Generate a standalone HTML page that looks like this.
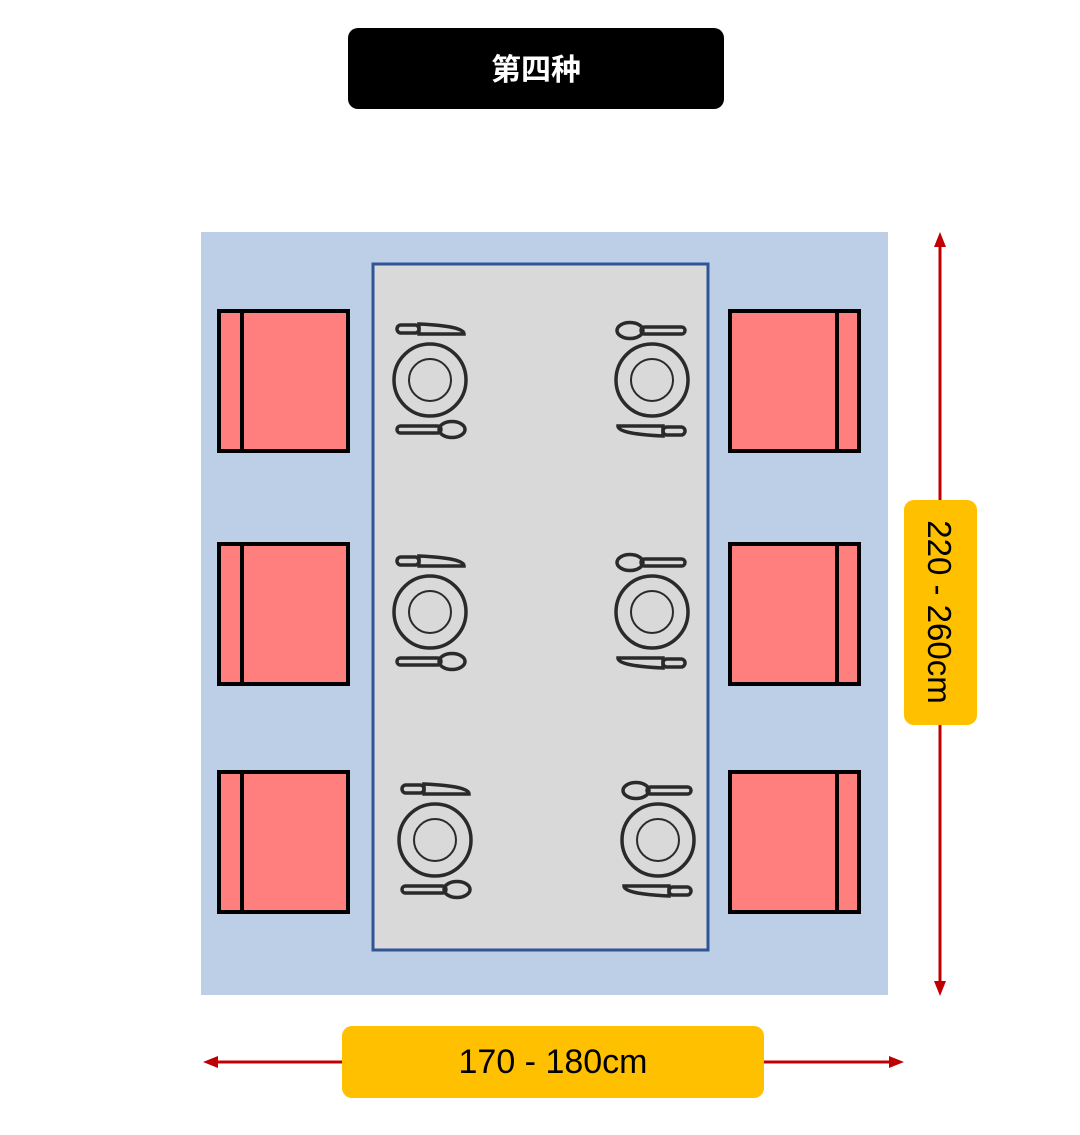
<!DOCTYPE html>
<html><head><meta charset="utf-8"><style>
body{margin:0;background:#fff;width:1080px;height:1135px;overflow:hidden}
svg{display:block}
</style></head><body>
<svg width="1080" height="1135" viewBox="0 0 1080 1135" xmlns="http://www.w3.org/2000/svg">
<defs>
<g id="ps" fill="none" stroke="#2a2a2a" stroke-width="3.5">
<circle cx="0" cy="0" r="36"/>
<circle cx="0" cy="0" r="21" stroke-width="2"/>
<rect x="-33" y="-55" width="22" height="8" rx="4"/>
<path d="M-11,-56 L-11,-46 L34,-46 Q34,-54 -11,-56 Z"/>
<rect x="-33" y="46" width="44" height="7" rx="3.5"/>
<ellipse cx="22" cy="49.5" rx="13" ry="8"/>
</g>
<g id="chL">
<rect x="219" y="0" width="129" height="140" fill="#ff7f7f" stroke="#000" stroke-width="4"/>
<line x1="242" y1="0" x2="242" y2="140" stroke="#000" stroke-width="4"/>
</g>
<g id="chR">
<rect x="730" y="0" width="129" height="140" fill="#ff7f7f" stroke="#000" stroke-width="4"/>
<line x1="837" y1="0" x2="837" y2="140" stroke="#000" stroke-width="4"/>
</g>
</defs>
<rect x="348" y="28" width="376" height="81" rx="10" fill="#000"/>
<text x="536" y="80" fill="#fff" font-size="30" font-weight="bold" text-anchor="middle" font-family="'Liberation Sans','Noto Sans CJK SC',sans-serif">第四种</text>
<rect x="201" y="232" width="687" height="763" fill="#bdcfe7"/>
<rect x="373" y="264" width="335" height="686" fill="#d9d9d9" stroke="#2f5597" stroke-width="3"/>
<use href="#chL" y="311"/><use href="#chL" y="544"/><use href="#chL" y="772"/>
<use href="#chR" y="311"/><use href="#chR" y="544"/><use href="#chR" y="772"/>
<use href="#ps" transform="translate(430,380)"/>
<use href="#ps" transform="translate(430,612)"/>
<use href="#ps" transform="translate(435,840)"/>
<use href="#ps" transform="translate(652,380) rotate(180)"/>
<use href="#ps" transform="translate(652,612) rotate(180)"/>
<use href="#ps" transform="translate(658,840) rotate(180)"/>
<line x1="940" y1="245" x2="940" y2="983" stroke="#c00000" stroke-width="3"/>
<path d="M940,232 L934,247 L946,247 Z M940,996 L934,981 L946,981 Z" fill="#c00000"/>
<rect x="904" y="500" width="73" height="225" rx="10" fill="#ffc000"/>
<text transform="translate(928,612) rotate(90)" font-size="33" text-anchor="middle" font-family="'Liberation Sans',sans-serif" fill="#000">220 - 260cm</text>
<line x1="215" y1="1062" x2="892" y2="1062" stroke="#c00000" stroke-width="3"/>
<path d="M203,1062 L218,1056 L218,1068 Z M904,1062 L889,1056 L889,1068 Z" fill="#c00000"/>
<rect x="342" y="1026" width="422" height="72" rx="10" fill="#ffc000"/>
<text x="553" y="1073" font-size="34" text-anchor="middle" font-family="'Liberation Sans',sans-serif" fill="#000">170 - 180cm</text>
</svg>
</body></html>
